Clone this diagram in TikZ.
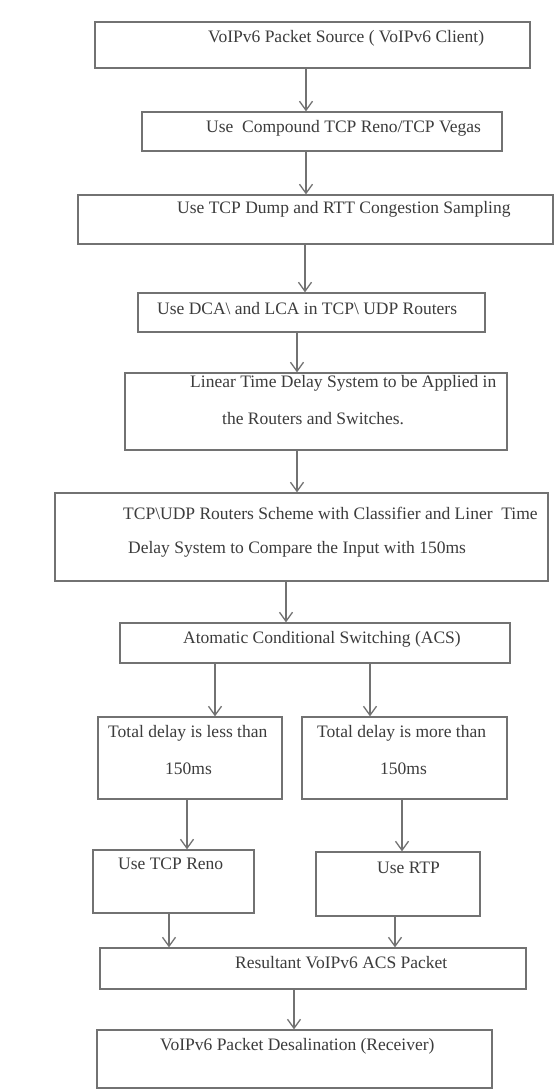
\documentclass[tikz,border=0pt]{standalone}
\usepackage{fontspec}
\setmainfont{Liberation Serif}
\usetikzlibrary{arrows.meta}
\definecolor{linegray}{HTML}{727272}
\definecolor{textgray}{HTML}{3C3C3C}
\tikzset{
  boxnode/.style={draw=linegray, line width=1.3pt, rectangle, inner sep=0pt},
  txt/.style={anchor=west, inner sep=0pt, text=textgray, font=\fontsize{17.5}{20}\selectfont},
  arr/.style={draw=linegray, line width=1.3pt, -{Straight Barb[length=9pt,width=13pt,line width=1.3pt]}}
}
\begin{document}
\begin{tikzpicture}[x=1pt,y=-1pt]
\useasboundingbox[fill=white] (0,0) rectangle (558,1090);
% boxes
\node[boxnode, minimum width=435pt, minimum height=46pt] (b1) at (312.5,45) {};
\node[boxnode, minimum width=360pt, minimum height=39pt] (b2) at (322,131.5) {};
\node[boxnode, minimum width=475pt, minimum height=49pt] (b3) at (315.5,219.5) {};
\node[boxnode, minimum width=347pt, minimum height=39pt] (b4) at (311.5,312.5) {};
\node[boxnode, minimum width=382pt, minimum height=77pt] (b5) at (316,411.5) {};
\node[boxnode, minimum width=493pt, minimum height=88pt] (b6) at (301.5,537) {};
\node[boxnode, minimum width=390pt, minimum height=40pt] (b7) at (315,643) {};
\node[boxnode, minimum width=184pt, minimum height=82pt] (b8l) at (190,758) {};
\node[boxnode, minimum width=205pt, minimum height=82pt] (b8r) at (404.5,758) {};
\node[boxnode, minimum width=161pt, minimum height=63pt] (b9l) at (173.5,881.5) {};
\node[boxnode, minimum width=164pt, minimum height=64pt] (b9r) at (398,884) {};
\node[boxnode, minimum width=426pt, minimum height=41pt] (b10) at (313,968.5) {};
\node[boxnode, minimum width=395pt, minimum height=58pt] (b11) at (294.5,1059) {};
% texts
\node[txt] (t1) at (208,38) {VoIPv6 Packet Source ( VoIPv6 Client)};
\node[txt] (t2) at (206,128) {Use\ \ Compound TCP Reno/TCP Vegas};
\node[txt] (t3) at (177,209) {Use TCP Dump and RTT Congestion Sampling};
\node[txt] (t4) at (157,309) {Use DCA\textbackslash\ and LCA in TCP\textbackslash\ UDP Routers};
\node[txt] (t5a) at (190,383) {Linear Time Delay System to be Applied in};
\node[txt] (t5b) at (222,419) {the Routers and Switches.};
\node[txt] (t6a) at (123,513) {TCP\textbackslash UDP Routers Scheme with Classifier and Liner\ \ Time};
\node[txt] (t6b) at (128,549) {Delay System to Compare the Input with 150ms};
\node[txt] (t7) at (183,639) {Atomatic Conditional Switching (ACS)};
\node[txt] (t8la) at (108,733) {Total delay is less than};
\node[txt] (t8lb) at (165,769) {150ms};
\node[txt] (t8ra) at (317,733) {Total delay is more than};
\node[txt] (t8rb) at (380,769) {150ms};
\node[txt] (t9l) at (118,864) {Use TCP Reno};
\node[txt] (t9r) at (377,868) {Use RTP};
\node[txt] (t10) at (235,963) {Resultant VoIPv6 ACS Packet};
\node[txt] (t11) at (160,1046) {VoIPv6 Packet Desalination (Receiver)};
% arrow x positions
\coordinate (x1) at (306,0);
\coordinate (x2) at (306,0);
\coordinate (x3) at (305,0);
\coordinate (x4) at (297,0);
\coordinate (x5) at (297,0);
\coordinate (x6) at (286,0);
\coordinate (x7) at (215,0);
\coordinate (x8) at (370,0);
\coordinate (x9) at (187,0);
\coordinate (x10) at (402,0);
\coordinate (x11) at (169,0);
\coordinate (x12) at (395,0);
\coordinate (x13) at (294,0);
% arrows
\draw[arr] (b1.south -| x1) -- (b2.north -| x1);
\draw[arr] (b2.south -| x2) -- (b3.north -| x2);
\draw[arr] (b3.south -| x3) -- (b4.north -| x3);
\draw[arr] (b4.south -| x4) -- (b5.north -| x4);
\draw[arr] (b5.south -| x5) -- (b6.north -| x5);
\draw[arr] (b6.south -| x6) -- (b7.north -| x6);
\draw[arr] (b7.south -| x7) -- (b8l.north -| x7);
\draw[arr] (b7.south -| x8) -- (b8r.north -| x8);
\draw[arr] (b8l.south -| x9) -- (b9l.north -| x9);
\draw[arr] (b8r.south -| x10) -- (b9r.north -| x10);
\draw[arr] (b9l.south -| x11) -- (b10.north -| x11);
\draw[arr] (b9r.south -| x12) -- (b10.north -| x12);
\draw[arr] (b10.south -| x13) -- (b11.north -| x13);
\end{tikzpicture}
\end{document}
